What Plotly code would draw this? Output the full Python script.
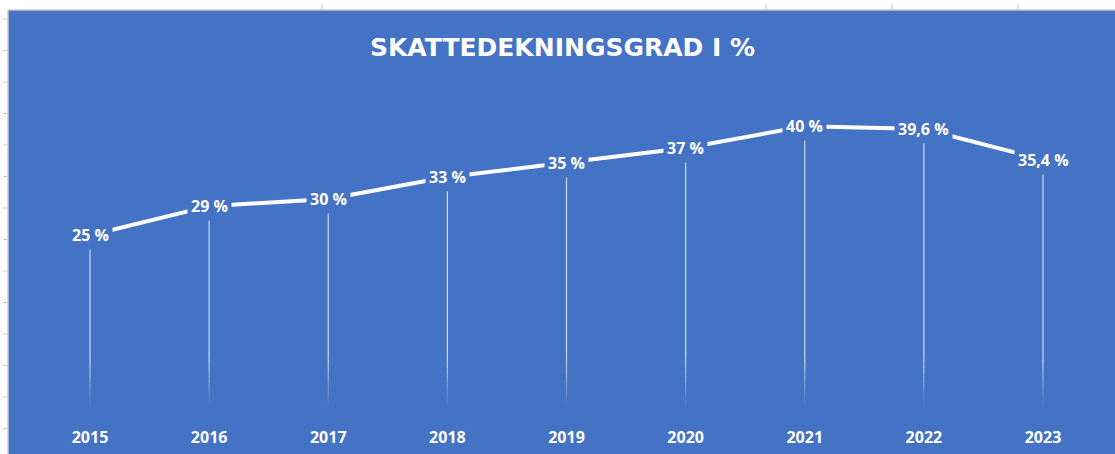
import plotly.graph_objects as go

years = [2015, 2016, 2017, 2018, 2019, 2020, 2021, 2022, 2023]
values = [25, 29, 30, 33, 35, 37, 40, 39.6, 35.4]
title_text = "SKATTEDEKNINGSGRAD I %"

BLUE = "#4472C4"
W, H = 1115, 454


def fmt(v):
    if float(v).is_integer():
        return f"{int(v)} %"
    return f"{v:.1f}".replace(".", ",") + " %"


fig = go.Figure()

# drop lines (solid part, then fading toward axis)
fade_top = 8.0
fx, fy = [], []
for x, v in zip(years, values):
    fx += [x, x, None]
    fy += [v, fade_top, None]
fig.add_trace(go.Scatter(x=fx, y=fy, mode="lines",
                         line=dict(color="rgba(255,255,255,0.75)", width=1.2),
                         hoverinfo="skip", showlegend=False))
steps = 10
for i in range(steps):
    top = fade_top - i * (fade_top - 1.5) / steps
    bot = fade_top - (i + 1) * (fade_top - 1.5) / steps
    a = 0.75 * (1 - (i + 0.5) / steps)
    sx, sy = [], []
    for x in years:
        sx += [x, x, None]
        sy += [top, bot, None]
    fig.add_trace(go.Scatter(x=sx, y=sy, mode="lines",
                             line=dict(color=f"rgba(255,255,255,{a:.3f})", width=1.2),
                             hoverinfo="skip", showlegend=False))

# main line
fig.add_trace(go.Scatter(x=years, y=values, mode="lines",
                         line=dict(color="white", width=4),
                         hoverinfo="skip", showlegend=False))

# data labels with blue background (break the line like Excel)
for x, v in zip(years, values):
    fig.add_annotation(x=x, y=v, xref="x", yref="y", text=fmt(v), showarrow=False,
                       bgcolor=BLUE, borderpad=3,
                       font=dict(family="Open Sans", size=16, color="white", weight="bold"))

# spreadsheet frame outside the chart (white strips + grey ruler ticks)
left_px, top_px = 8, 10
plot_h = 417
shapes = []
shapes.append(dict(type="rect", xref="paper", yref="paper",
                   x0=0, x1=left_px / W, y0=0 - (H - plot_h) / plot_h, y1=1.0,
                   fillcolor="white", line=dict(width=0), layer="above"))
shapes.append(dict(type="rect", xref="paper", yref="paper",
                   x0=0, x1=1, y0=1 - top_px / plot_h, y1=1.0,
                   fillcolor="white", line=dict(width=0), layer="above"))
shapes.append(dict(type="line", xref="paper", yref="paper",
                   x0=left_px / W, x1=left_px / W, y0=-(H - plot_h) / plot_h, y1=1 - top_px / plot_h,
                   line=dict(color="#c8c8c8", width=1.5), layer="above"))
shapes.append(dict(type="line", xref="paper", yref="paper",
                   x0=left_px / W, x1=1, y0=1 - top_px / plot_h, y1=1 - top_px / plot_h,
                   line=dict(color="#c8c8c8", width=1.5), layer="above"))
yy = 19.0
while yy < H:
    shapes.append(dict(type="line", xref="paper", yref="paper",
                       x0=3 / W, x1=7 / W, y0=1 - yy / plot_h, y1=1 - yy / plot_h,
                       line=dict(color="#c8c8c8", width=1), layer="above"))
    yy += 31.5
for xp in [322, 766, 892, 1018]:
    shapes.append(dict(type="line", xref="paper", yref="paper",
                       x0=xp / W, x1=xp / W, y0=1 - 4 / plot_h, y1=1 - 9 / plot_h,
                       line=dict(color="#c8c8c8", width=1), layer="above"))

# axis ranges mapping
px_per_year = (1043 - 90) / 8
x0 = 2015 - 90 / px_per_year
x1 = x0 + W / px_per_year
px_per_unit = 7.27
y1 = plot_h / px_per_unit

fig.update_layout(
    width=W, height=H,
    margin=dict(l=0, r=0, t=0, b=H - plot_h),
    paper_bgcolor=BLUE, plot_bgcolor=BLUE,
    title=dict(text=title_text, x=0.5045, xanchor="center", xref="paper",
               y=1 - 47 / H, yref="container", yanchor="middle",
               font=dict(family="DejaVu Sans", size=25, color="white", weight="bold")),
    xaxis=dict(range=[x0, x1], tickmode="array", tickvals=years,
               ticktext=[str(y) for y in years], showgrid=False, zeroline=False,
               showline=False, ticks="outside", ticklen=6, tickcolor="rgba(0,0,0,0)",
               tickfont=dict(family="Open Sans", size=16, color="white", weight="bold")),
    yaxis=dict(range=[0, y1], visible=False, showgrid=False, zeroline=False),
    shapes=shapes,
    showlegend=False,
)

fig.write_html(
    "out.html",
    config={"displayModeBar": False},
    post_script="document.body.style.margin='0';document.body.style.overflow='hidden';",
)
